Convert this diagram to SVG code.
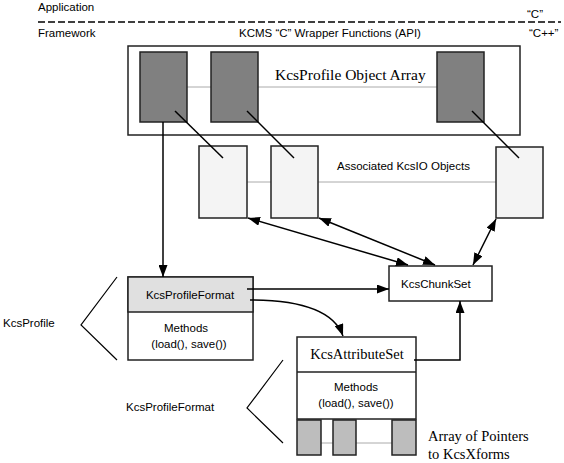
<svg xmlns="http://www.w3.org/2000/svg" width="564" height="463" viewBox="0 0 564 463">
<defs>
<marker id="arr" markerUnits="userSpaceOnUse" markerWidth="12" markerHeight="9" refX="12" refY="4.5" orient="auto-start-reverse" viewBox="0 0 12 9">
<path d="M0,0 L12,4.5 L0,9 z" fill="#000"/>
</marker>
<style>
.sans{font-family:"Liberation Sans",Arial,sans-serif;font-size:11.5px;fill:#000}
.serif{font-family:"Liberation Serif","Times New Roman",serif;fill:#000}
.box{fill:#fff;stroke:#222;stroke-width:1.5}
.dark{fill:#808080;stroke:#222;stroke-width:1.5}
.light{fill:#f4f4f4;stroke:#222;stroke-width:1.5}
.mid{fill:#bdbdbd;stroke:#222;stroke-width:1.5}
.hdr{fill:#e0e0e0;stroke:#222;stroke-width:1.5}
.link{stroke:#aaa;stroke-width:1;fill:none}
.ln{stroke:#000;stroke-width:1.5;fill:none}
.br{stroke:#000;stroke-width:1.2;fill:none}
</style>
</defs>

<g id="layers">
<text class="sans" x="38" y="11">Application</text>
<text class="sans" x="527" y="18">“C”</text>
<line x1="38" y1="22" x2="561" y2="22" stroke="#000" stroke-width="1.5" stroke-dasharray="7 3"/>
<text class="sans" x="38" y="37">Framework</text>
<text class="sans" x="330" y="37" text-anchor="middle">KCMS “C” Wrapper Functions (API)</text>
<text class="sans" x="529" y="37">“C++”</text>
</g>

<g id="profile-array">
<rect class="box" x="128" y="46" width="392" height="89"/>
<line class="link" x1="187" y1="87" x2="211" y2="87"/>
<line class="link" x1="258" y1="87" x2="437" y2="87"/>
<rect class="dark" x="140" y="52" width="47" height="70"/>
<rect class="dark" x="211" y="52" width="47" height="70"/>
<rect class="dark" x="437" y="52" width="47" height="70"/>
<text class="serif" x="275" y="80" font-size="15.5">KcsProfile Object Array</text>
</g>

<g id="kcsio-objects">
<line class="link" x1="247" y1="182" x2="271" y2="182"/>
<line class="link" x1="318" y1="182" x2="496" y2="182"/>
<rect class="light" x="199" y="146" width="48" height="72"/>
<rect class="light" x="271" y="146" width="47" height="72"/>
<rect class="light" x="496" y="147" width="47" height="71"/>
<text class="sans" x="337" y="170">Associated KcsIO Objects</text>
</g>

<g id="chunkset">
<rect class="box" x="389" y="266" width="103" height="35"/>
<text class="sans" x="401" y="288">KcsChunkSet</text>
</g>

<g id="profileformat">
<rect class="box" x="128" y="277" width="125" height="83"/>
<rect class="hdr" x="128" y="277" width="125" height="35"/>
<text class="sans" x="190" y="299" text-anchor="middle">KcsProfileFormat</text>
<text class="sans" x="186" y="332" text-anchor="middle">Methods</text>
<text class="sans" x="189" y="348" text-anchor="middle">(load(), save())</text>
</g>

<g id="attributeset">
<rect class="box" x="297" y="337" width="119" height="82"/>
<line x1="297" y1="372" x2="416" y2="372" stroke="#222" stroke-width="1.5"/>
<text class="serif" x="357" y="359" font-size="14.5" text-anchor="middle">KcsAttributeSet</text>
<text class="sans" x="356" y="391" text-anchor="middle">Methods</text>
<text class="sans" x="356" y="407" text-anchor="middle">(load(), save())</text>
<line class="link" x1="321" y1="443" x2="333" y2="443"/>
<line class="link" x1="356" y1="443" x2="392" y2="443"/>
<rect class="mid" x="297" y="420" width="24" height="35"/>
<rect class="mid" x="333" y="420" width="23" height="35"/>
<rect class="mid" x="392" y="420" width="24" height="35"/>
<text class="serif" x="428" y="441" font-size="14.5">Array of Pointers</text>
<text class="serif" x="428" y="459" font-size="14.5">to KcsXforms</text>
</g>

<g id="labels">
<polyline class="br" points="117,277 81,325 117,360"/>
<text class="sans" x="3" y="327">KcsProfile</text>
<polyline class="br" points="283,360 247,408 283,443"/>
<text class="sans" x="126" y="411">KcsProfileFormat</text>
</g>

<g id="connectors">
<line class="ln" x1="175" y1="111" x2="223" y2="158"/>
<line class="ln" x1="247" y1="111" x2="294" y2="158"/>
<line class="ln" x1="472" y1="111" x2="519" y2="158"/>
<line class="ln" x1="163" y1="122" x2="163" y2="277" marker-end="url(#arr)"/>
<line class="ln" x1="248" y1="218" x2="408" y2="265" marker-start="url(#arr)" marker-end="url(#arr)"/>
<line class="ln" x1="319" y1="218" x2="435" y2="265" marker-start="url(#arr)" marker-end="url(#arr)"/>
<line class="ln" x1="496" y1="219" x2="473" y2="265" marker-start="url(#arr)" marker-end="url(#arr)"/>
<line class="ln" x1="247" y1="289" x2="389" y2="289" marker-end="url(#arr)"/>
<path class="ln" d="M250,300 Q330,300 343,336" marker-end="url(#arr)"/>
<polyline class="ln" points="414,360 460,360 460,301" marker-end="url(#arr)"/>
</g>
</svg>
